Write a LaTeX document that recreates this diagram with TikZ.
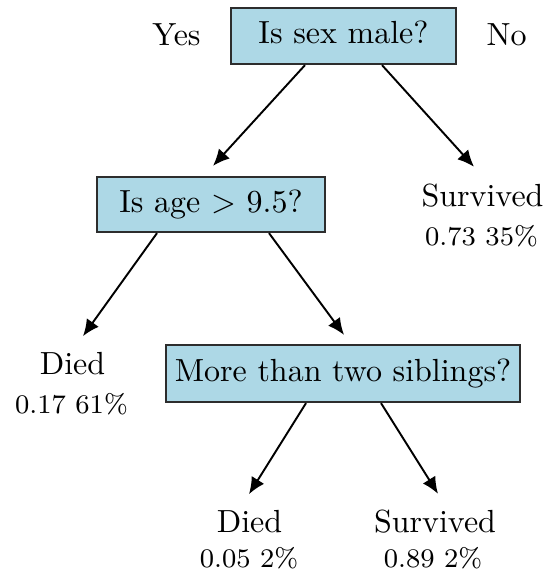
\documentclass[tikz,border=0pt]{standalone}
\usetikzlibrary{arrows.meta}
\definecolor{boxblue}{RGB}{173,216,230}
\definecolor{boxedge}{RGB}{45,45,45}
\begin{document}
\begin{tikzpicture}[x=0.3125pt,y=-0.3125pt,
  question/.style={draw=boxedge,line width=0.7pt,fill=boxblue,inner sep=0pt,
    text height=7pt,text depth=2pt,font=\fontsize{10}{12}\selectfont},
  side/.style={inner sep=0pt,anchor=base,font=\fontsize{10}{12}\selectfont},
  leaf/.style={inner sep=0pt,anchor=base,font=\fontsize{10}{12}\selectfont},
  share/.style={inner sep=0pt,anchor=base,font=\fontsize{8.4}{10}\selectfont},
  edge/.style={line width=0.6pt,-{Latex[length=5.2pt,width=4.6pt]}}]
\path[use as bounding box] (0,0) rectangle (548,574);

% decision boxes
\node[question,minimum width=225*0.3125pt,minimum height=56*0.3125pt] (root) at (343.5,36) {Is sex male?};
\node[question,minimum width=228*0.3125pt,minimum height=55*0.3125pt] (age) at (211,204.5) {Is age $>$ 9.5?};
\node[question,minimum width=354*0.3125pt,minimum height=57*0.3125pt] (sib) at (343,373.5) {More than two siblings?};

% branch labels
\node[side] (yes) at (176.5,46) {Yes};
\node[side] (no) at (506.5,46) {No};

% outcomes
\node[leaf] (sr) at (482.5,207) {Survived};
\node[share] (srv) at (481.5,246) {0.73 35\%};
\node[leaf] (dl) at (72.5,375) {Died};
\node[share] (dlv) at (71.5,414) {0.17 61\%};
\node[leaf] (dd) at (249.5,532) {Died};
\node[share] (ddv) at (249,567) {0.05 2\%};
\node[leaf] (sv) at (435,532) {Survived};
\node[share] (svv) at (433,567) {0.89 2\%};

% connectors
\draw[edge] ([shift={(-38.5,0)}]root.south) -- ([shift={(2,-10)}]age.north);
\draw[edge] ([shift={(38.5,0)}]root.south) -- ([shift={(-8.5,-17)}]sr.north);
\draw[edge] ([shift={(-54,0)}]age.south) -- ([shift={(10.5,-16)}]dl.north);
\draw[edge] ([shift={(58,0)}]age.south) -- ([shift={(1,-9)}]sib.north);
\draw[edge] ([shift={(-37,0)}]sib.south) -- ([shift={(-0.5,-15)}]dd.north);
\draw[edge] ([shift={(38,0)}]sib.south) -- ([shift={(3,-15)}]sv.north);
\end{tikzpicture}
\end{document}
